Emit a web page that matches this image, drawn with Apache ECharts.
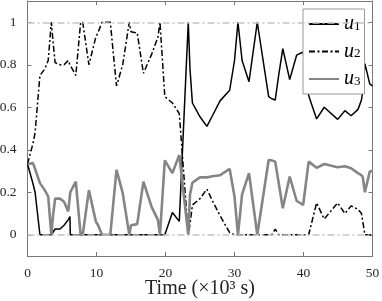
<!DOCTYPE html>
<html>
<head>
<meta charset="utf-8">
<script src="https://cdn.jsdelivr.net/npm/echarts@6/dist/echarts.min.js"></script>
<style>html,body{margin:0;padding:0;background:#fff}#c{width:382px;height:301px}</style>
</head>
<body>
<div id="c"></div>
<script>
const times = [0, 0.8, 1.1, 1.8, 2.5, 3.0, 3.45, 3.7, 4.0, 4.7, 5.3, 5.9, 6.15, 6.2, 7.0, 7.7, 8.0, 8.9, 9.9, 10.2, 10.8, 12.0, 12.9, 13.8, 14.75, 15.0, 15.9, 16.8, 18.0, 18.9, 19.2, 19.9, 21.0, 22.0, 23.3, 23.55, 23.9, 25.0, 26.0, 26.8, 27.9, 29.3, 30.0, 30.5, 31.1, 32.1, 33.3, 34.95, 35.4, 35.9, 36.4, 37.0, 38.0, 39.0, 39.95, 40.75, 40.9, 41.9, 43.0, 44.95, 46.0, 46.9, 47.9, 48.4, 48.6, 48.9, 49.6, 50];
const u1 = [0.333, 0.24, 0.20, 0, 0, 0, 0, 0, 0.027, 0.027, 0.045, 0.07, 0.086, 0, 0, 0, 0, 0, 0, 0, 0, 0, 0, 0, 0, 0, 0, 0, 0, 0, 0, 0, 0.105, 0.063, 1.0, 0.78, 0.62, 0.555, 0.51, 0.56, 0.63, 0.68, 0.82, 1.0, 0.82, 0.72, 1.0, 0.65, 0.64, 0.634, 0.75, 0.876, 0.73, 0.845, 0.86, 0.656, 0.64, 0.545, 0.60, 0.543, 0.584, 0.56, 0.59, 0.634, 0.68, 0.805, 0.71, 0.70];
const u2 = [0.333, 0.43, 0.48, 0.75, 0.78, 0.82, 1.0, 0.91, 0.81, 0.80, 0.80, 0.82, 0.80, 0.80, 0.75, 1.0, 1.0, 0.80, 0.93, 0.95, 1.0, 1.0, 0.70, 0.80, 1.0, 0.955, 0.95, 0.76, 0.85, 0.93, 1.0, 0.65, 0.62, 0.57, 0, 0.05, 0.14, 0.17, 0.215, 0.16, 0.09, 0.01, 0, 0, 0, 0, 0, 0, 0, 0.027, 0, 0, 0, 0, 0, 0, 0, 0.15, 0.074, 0.15, 0.10, 0.136, 0.12, 0.10, 0.06, 0, 0, 0];
const u3 = [0.333, 0.337, 0.31, 0.243, 0.21, 0.18, 0, 0.09, 0.17, 0.17, 0.155, 0.11, 0.11, 0.20, 0.25, 0, 0, 0.21, 0.063, 0.047, 0, 0, 0.305, 0.196, 0, 0.045, 0.05, 0.25, 0.13, 0.07, 0, 0.35, 0.29, 0.375, 0, 0.19, 0.245, 0.27, 0.27, 0.275, 0.28, 0.31, 0.18, 0, 0.19, 0.29, 0, 0.352, 0.35, 0.344, 0.245, 0.125, 0.274, 0.16, 0.14, 0.344, 0.34, 0.315, 0.333, 0.318, 0.322, 0.313, 0.29, 0.28, 0.27, 0.20, 0.297, 0.30];
const xTicks = [0, 10, 20, 30, 40, 50];
const yTicks = [0, 0.2, 0.4, 0.6, 0.8, 1];
const refLevels = [0, 1];
const seriesNames = ['u1', 'u2', 'u3'];

const serif = "'Liberation Serif', 'Times New Roman', serif";
const axisColor = '#777';
const pairs = arr => times.map((t, i) => [t, arr[i]]);

const chart = echarts.init(document.getElementById('c'), null, {renderer: 'canvas'});
const xBase = {type: 'value', min: 0, max: 50, interval: 10, splitLine: {show: false},
  axisLine: {show: true, onZero: false, lineStyle: {color: axisColor, width: 1}},
  axisTick: {show: true, inside: true, length: 4, lineStyle: {color: axisColor}}};
const yBase = {type: 'value', min: -0.1, max: 1.1, splitLine: {show: false},
  axisLine: {show: true, onZero: false, lineStyle: {color: axisColor, width: 1}},
  axisTick: {show: true, inside: true, length: 4, customValues: yTicks, lineStyle: {color: axisColor}}};

chart.setOption({
  animation: false,
  grid: {left: 27.5, right: 9.5, top: 1, bottom: 45, containLabel: false, outerBoundsMode: 'none'},
  xAxis: [
    Object.assign({}, xBase, {position: 'bottom',
      axisLabel: {show: true, margin: 10, customValues: xTicks, fontFamily: serif, fontSize: 13.5, color: '#262626'},
      name: 'Time (×10³ s)', nameLocation: 'middle', nameGap: 23, nameMoveOverlap: false,
      nameTextStyle: {fontFamily: serif, fontSize: 20, color: '#262626', verticalAlign: 'top'}}),
    Object.assign({}, xBase, {position: 'top', axisLabel: {show: false}})
  ],
  yAxis: [
    Object.assign({}, yBase, {position: 'left',
      axisLabel: {show: true, margin: 11, customValues: yTicks, fontFamily: serif, fontSize: 13.5, color: '#262626'}}),
    Object.assign({}, yBase, {position: 'right', axisLabel: {show: false}})
  ],
  legend: {
    orient: 'vertical', left: 303, top: 9, padding: [5, 4, 5, 5],
    itemGap: 7.5, itemWidth: 30, itemHeight: 18,
    backgroundColor: '#fff', borderColor: '#999', borderWidth: 1,
    data: seriesNames,
    itemStyle: {opacity: 0},
    formatter: name => '{i|u}{s|' + name.slice(1) + '}',
    textStyle: {
      padding: [0, 0, 0, 0],
      rich: {
        i: {fontFamily: serif, fontStyle: 'italic', fontSize: 20, color: '#000', lineHeight: 18},
        s: {fontFamily: serif, fontSize: 13, color: '#000', verticalAlign: 'bottom', lineHeight: 12}
      }
    }
  },
  series: [
    {type: 'line', name: 'ref', data: [], z: 1, silent: true,
      markLine: {silent: true, symbol: 'none', label: {show: false},
        lineStyle: {color: '#c4c4c4', width: 1.6, type: [7, 3, 2, 3]},
        data: refLevels.map(v => ({yAxis: v}))}},
    {type: 'line', name: seriesNames[0], data: pairs(u1), symbol: 'none', showSymbol: false, z: 3,
      lineStyle: {color: '#000', width: 1.5}, itemStyle: {color: '#000'}},
    {type: 'line', name: seriesNames[1], data: pairs(u2), symbol: 'none', showSymbol: false, z: 3,
      lineStyle: {color: '#000', width: 1.5, type: [6, 2.5, 2, 2.5]}, itemStyle: {color: '#000'}},
    {type: 'line', name: seriesNames[2], data: pairs(u3), symbol: 'none', showSymbol: false, z: 3,
      lineStyle: {color: '#858585', width: 2.6}, itemStyle: {color: '#858585'}}
  ]
});
</script>
</body>
</html>
